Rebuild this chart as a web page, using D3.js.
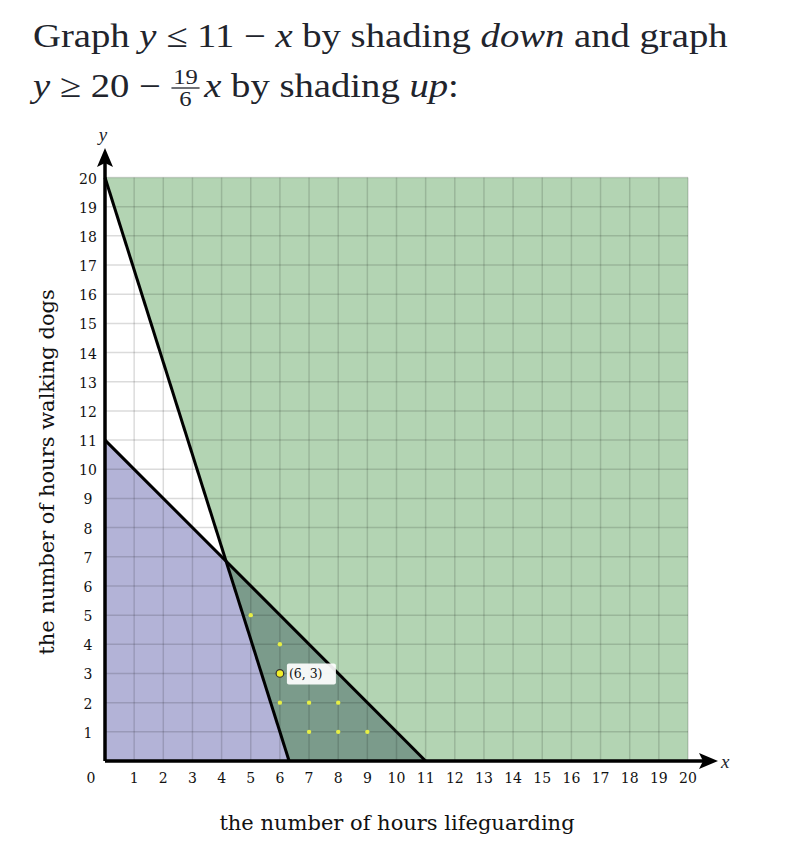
<!DOCTYPE html>
<html><head><meta charset="utf-8">
<script src="https://cdn.jsdelivr.net/npm/d3@7"></script>
<style>
body{margin:0;background:#fff;}
svg{display:block;}
</style></head>
<body>
<svg id="c" width="800" height="850"></svg>
<script>
// ---- data ----
const xDomain = [0, 20];
const yDomain = [0, 20];
const xTicks = [1,2,3,4,5,6,7,8,9,10,11,12,13,14,15,16,17,18,19,20];
const yTicks = [1,2,3,4,5,6,7,8,9,10,11,12,13,14,15,16,17,18,19,20];
// line 1: y <= 11 - x  (shade down)
const line1Intercept = 11, line1Slope = -1;
// line 2: y >= 20 - 19/6 x (shade up)
const line2Intercept = 20, line2Slope = -19/6;
const solutionX = [5,6,6,7,8,7,8,9];
const solutionY = [5,4,2,2,2,1,1,1];
const highlightPoint = [6,3];
const highlightLabel = "(6, 3)";
const xTitle = "the number of hours lifeguarding";
const yTitle = "the number of hours walking dogs";

// ---- layout ----
const svg = d3.select("#c");
const x = d3.scaleLinear().domain(xDomain).range([105, 688]);
const y = d3.scaleLinear().domain(yDomain).range([761, 177.5]);
const serif = "'Liberation Serif', serif";
const wide = "'DejaVu Serif', serif";
const ink = "#21242c";

// Title line 1
const g1 = svg.append("g").attr("font-family", serif).attr("font-size", 33).attr("fill", ink);
const t1 = g1.append("text").attr("x", 0).attr("y", 47);
t1.append("tspan").text("Graph ");
t1.append("tspan").attr("font-style","italic").text("y");
t1.append("tspan").text(" \u2264 11 \u2212 ");
t1.append("tspan").attr("font-style","italic").text("x");
t1.append("tspan").text(" by shading ");
t1.append("tspan").attr("font-style","italic").text("down");
t1.append("tspan").text(" and graph");
const w1 = t1.node().getComputedTextLength();
const sx = 695 / w1;
g1.attr("transform", `translate(33,0) scale(${sx},1)`);

// Title line 2
const g2 = svg.append("g").attr("font-family", serif).attr("font-size", 33).attr("fill", ink)
  .attr("transform", `translate(33,0) scale(${sx},1)`);
const t2 = g2.append("text").attr("x", 0).attr("y", 97);
t2.append("tspan").attr("font-style","italic").text("y");
t2.append("tspan").text(" \u2265 20 \u2212 ");
const w2 = t2.node().getComputedTextLength();
const fw = 24;
const fx = w2 + 9;
g2.append("text").attr("x", fx+fw/2).attr("y", 84).attr("font-size", 21).attr("text-anchor","middle").text("19");
g2.append("line").attr("x1", fx).attr("x2", fx+fw).attr("y1", 88).attr("y2", 88).attr("stroke", ink).attr("stroke-width",1.3);
g2.append("text").attr("x", fx+fw/2).attr("y", 106).attr("font-size", 21).attr("text-anchor","middle").text("6");
const t3 = g2.append("text").attr("x", fx+fw+4).attr("y", 97);
t3.append("tspan").attr("font-style","italic").text("x");
t3.append("tspan").text(" by shading ");
t3.append("tspan").attr("font-style","italic").text("up");
t3.append("tspan").text(":");

// Regions
const f1 = v => line1Intercept + line1Slope*v;
const f2 = v => line2Intercept + line2Slope*v;
const x1Root = -line1Intercept/line1Slope;
const x2Root = -line2Intercept/line2Slope;
const xi = (line2Intercept - line1Intercept)/(line1Slope - line2Slope);
const yi = f1(xi);
const P = pts => pts.map(p => [x(p[0]), y(p[1])].join(",")).join(" ");

svg.append("polygon").attr("points", P([[0,line2Intercept],[xDomain[1],yDomain[1]],[xDomain[1],0],[x2Root,0]]))
  .attr("fill", "#b3d4b3");
svg.append("polygon").attr("points", P([[0,0],[0,line1Intercept],[x1Root,0]]))
  .attr("fill", "#b3b3d7");
svg.append("polygon").attr("points", P([[xi,yi],[x1Root,0],[x2Root,0]]))
  .attr("fill", "#7b9b8b");

// Grid
const grid = svg.append("g").attr("stroke", "#000").attr("stroke-opacity", 0.14).attr("stroke-width", 1.5);
xTicks.forEach(t => grid.append("line").attr("x1", x(t)).attr("x2", x(t)).attr("y1", y(0)).attr("y2", y(20)));
yTicks.forEach(t => grid.append("line").attr("x1", x(0)).attr("x2", x(20)).attr("y1", y(t)).attr("y2", y(t)));

// Boundary lines
svg.append("line").attr("x1", x(0)).attr("y1", y(f1(0))).attr("x2", x(x1Root)).attr("y2", y(0))
  .attr("stroke", "#000").attr("stroke-width", 3);
svg.append("line").attr("x1", x(0)).attr("y1", y(f2(0))).attr("x2", x(x2Root)).attr("y2", y(0))
  .attr("stroke", "#000").attr("stroke-width", 3);

// Axes with arrows
const ax0 = x(0), ay0 = y(0);
svg.append("line").attr("x1", ax0).attr("y1", ay0).attr("x2", 704).attr("y2", ay0).attr("stroke","#000").attr("stroke-width",3.5);
svg.append("line").attr("x1", ax0).attr("y1", ay0).attr("x2", ax0).attr("y2", 160).attr("stroke","#000").attr("stroke-width",3.5);
svg.append("path").attr("d", `M718,${ay0} L699,${ay0-8} L703,${ay0} L699,${ay0+8} Z`).attr("fill","#000");
svg.append("path").attr("d", `M${ax0},148 L${ax0-8},167 L${ax0},163 L${ax0+8},167 Z`).attr("fill","#000");
svg.append("text").attr("x", 721).attr("y", 768).attr("font-family", serif).attr("font-style","italic").attr("font-size", 19).attr("fill", ink).text("x");
svg.append("text").attr("x", ax0-2).attr("y", 141).attr("font-family", serif).attr("font-style","italic").attr("font-size", 19).attr("fill", ink).attr("text-anchor","middle").text("y");

// Tick labels
const tl = svg.append("g").attr("font-family", wide).attr("font-size", 14).attr("fill", "#111");
xTicks.forEach(t => tl.append("text").attr("x", x(t)).attr("y", 783).attr("text-anchor","middle").text(t));
yTicks.forEach(t => tl.append("text").attr("x", 88).attr("y", y(t)+6).attr("text-anchor","middle").text(t));
tl.append("text").attr("x", 91).attr("y", 783).attr("text-anchor","middle").text("0");

// Axis titles
svg.append("text").attr("x", 397).attr("y", 830).attr("text-anchor","middle").attr("font-family", wide).attr("font-size", 21).attr("fill","#111").text(xTitle);
svg.append("text").attr("transform", "translate(54,472) rotate(-90)").attr("text-anchor","middle").attr("font-family", wide).attr("font-size", 21).attr("fill","#111").text(yTitle);

// Solution points
svg.append("g").selectAll("circle").data(solutionX.map((v,i)=>[v, solutionY[i]])).join("circle")
  .attr("cx", d => x(d[0])).attr("cy", d => y(d[1])).attr("r", 2.2).attr("fill", "#e6ee45");

// Highlight point + label
const hx = x(highlightPoint[0]), hy = y(highlightPoint[1]);
svg.append("rect").attr("x", hx+7).attr("y", hy-10).attr("width", 49).attr("height", 21).attr("rx", 2).attr("fill", "#fff").attr("fill-opacity", 0.92);
svg.append("text").attr("x", hx+9).attr("y", hy+5).attr("font-family", wide).attr("font-size", 12.5).attr("fill","#111").text(highlightLabel);
svg.append("circle").attr("cx", hx).attr("cy", hy).attr("r", 3.8).attr("fill", "#f2ef2a").attr("stroke", "#333").attr("stroke-width", 1.2);
</script>
</body></html>
